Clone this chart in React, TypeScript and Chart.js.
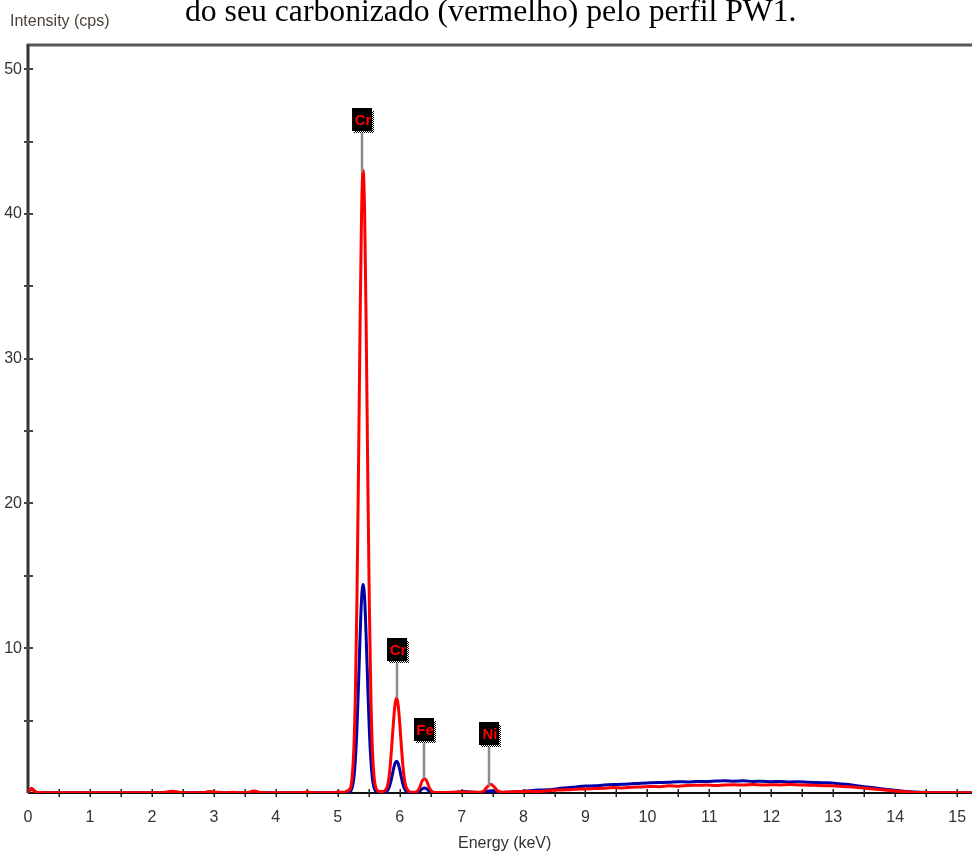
import React, { useEffect, useRef } from "react";
import { Chart, registerables } from "chart.js";

Chart.register(...registerables);

// ---- spectrum data (energy in keV, intensity in cps) ----
const energies = [
  0.0, 0.03, 0.06, 0.09, 0.13, 0.2, 0.4, 0.7, 1.0, 1.3,
  1.6, 1.9, 2.15, 2.25, 2.33, 2.41, 2.5, 2.7, 2.85, 2.95,
  3.05, 3.2, 3.3, 3.4, 3.55, 3.65, 3.75, 3.9, 4.1, 4.3,
  4.45, 4.52, 4.6, 4.8, 4.95, 5.03, 5.1, 5.16,
  5.21, 5.235, 5.26, 5.285, 5.31, 5.335, 5.36, 5.385, 5.41, 5.435,
  5.46, 5.485, 5.51, 5.535, 5.56, 5.585, 5.61, 5.66, 5.72, 5.77,
  5.8, 5.825, 5.85, 5.875, 5.9, 5.925, 5.95, 5.975, 6.0, 6.025,
  6.05, 6.075, 6.1, 6.15, 6.2,
  6.27, 6.32, 6.36, 6.4, 6.44, 6.48, 6.53, 6.6, 6.75, 6.9,
  7.0, 7.1, 7.2, 7.3,
  7.36, 7.42, 7.47, 7.52, 7.58, 7.65, 7.75, 7.85, 7.95,
  8.1, 8.25, 8.4, 8.55, 8.7, 8.85, 9.0, 9.15, 9.3, 9.45,
  9.6, 9.75, 9.9, 10.05, 10.2, 10.35, 10.5, 10.65, 10.8, 10.95,
  11.1, 11.25, 11.4, 11.55, 11.7, 11.85, 12.0, 12.15, 12.3, 12.45,
  12.6, 12.75, 12.9, 13.05, 13.2, 13.35, 13.5, 13.65, 13.8, 13.95,
  14.1, 14.25, 14.4, 14.55, 14.7, 14.9, 15.1, 15.3,
];

// carbonizado (vermelho)
const redCounts = [
  0.05, 0.2, 0.32, 0.2, 0.05, 0.02, 0.02, 0.01, 0.02, 0.01,
  0.02, 0.02, 0.02, 0.07, 0.12, 0.07, 0.02, 0.02, 0.04, 0.1,
  0.05, 0.02, 0.06, 0.02, 0.03, 0.14, 0.04, 0.02, 0.02, 0.02,
  0.03, 0.07, 0.02, 0.02, 0.04, 0.07, 0.05, 0.15,
  0.4, 1.2, 3.0, 6.8, 13.2, 22.1, 32.0, 40.0, 43.0, 40.0,
  32.0, 22.1, 13.2, 6.8, 3.0, 1.2, 0.45, 0.12, 0.1, 0.2,
  0.45, 1.0, 2.0, 3.4, 4.9, 6.1, 6.6, 6.1, 4.9, 3.4,
  2.0, 1.0, 0.45, 0.12, 0.05,
  0.08, 0.35, 0.8, 1.0, 0.8, 0.35, 0.08, 0.03, 0.04, 0.06,
  0.08, 0.06, 0.05, 0.06,
  0.15, 0.45, 0.6, 0.45, 0.15, 0.06, 0.07, 0.08, 0.1,
  0.12, 0.1, 0.16, 0.2, 0.22, 0.26, 0.28, 0.31, 0.33, 0.38,
  0.35, 0.4, 0.42, 0.45, 0.44, 0.5, 0.47, 0.52, 0.53, 0.55,
  0.52, 0.56, 0.57, 0.55, 0.58, 0.55, 0.57, 0.56, 0.58, 0.55,
  0.54, 0.52, 0.5, 0.48, 0.44, 0.4, 0.34, 0.28, 0.22, 0.15,
  0.1, 0.06, 0.04, 0.03, 0.02, 0.02, 0.02, 0.02,
];

// amostra (azul)
const blueCounts = [
  0.05, 0.18, 0.28, 0.18, 0.05, 0.02, 0.01, 0.01, 0.01, 0.01,
  0.01, 0.02, 0.02, 0.05, 0.08, 0.05, 0.02, 0.02, 0.03, 0.07,
  0.04, 0.02, 0.04, 0.02, 0.02, 0.05, 0.02, 0.02, 0.02, 0.01,
  0.03, 0.05, 0.02, 0.02, 0.03, 0.04, 0.03, 0.06,
  0.13, 0.4, 1.0, 2.3, 4.4, 7.4, 10.7, 13.4, 14.4, 13.4,
  10.7, 7.4, 4.4, 2.3, 1.0, 0.4, 0.14, 0.04, 0.03, 0.05,
  0.15, 0.33, 0.67, 1.13, 1.64, 2.05, 2.2, 2.05, 1.64, 1.13,
  0.67, 0.33, 0.15, 0.04, 0.02,
  0.03, 0.12, 0.28, 0.35, 0.28, 0.12, 0.03, 0.02, 0.03, 0.06,
  0.1, 0.09, 0.06, 0.04,
  0.05, 0.12, 0.15, 0.12, 0.05, 0.04, 0.06, 0.09, 0.11,
  0.16, 0.2, 0.22, 0.3, 0.36, 0.42, 0.48, 0.5, 0.55, 0.58,
  0.6, 0.64, 0.68, 0.7, 0.72, 0.74, 0.78, 0.76, 0.8, 0.8,
  0.83, 0.85, 0.82, 0.84, 0.8, 0.82, 0.78, 0.8, 0.76, 0.78,
  0.74, 0.72, 0.7, 0.66, 0.6, 0.52, 0.44, 0.36, 0.28, 0.2,
  0.13, 0.08, 0.05, 0.03, 0.02, 0.02, 0.02, 0.02,
];

// peak labels
const peakLabels = ["Cr", "Cr", "Fe", "Ni"];
const peakEnergies = [5.4, 5.95, 6.39, 7.45];
const labelValues = [45.6, 8.98, 3.45, 3.18];
const peakTops = [42.9, 6.56, 1.0, 0.5];

const X_MAX = 15.24;
const Y_MAX = 51.67;

const SANS = '"Liberation Sans", Arial, sans-serif';

const framePlugin = {
  id: "frame",
  beforeDatasetsDraw(chart: any) {
    const { ctx, chartArea: a, scales } = chart;
    const x = scales.x;
    const y = scales.y;
    ctx.save();
    // top border
    ctx.strokeStyle = "#555";
    ctx.lineWidth = 3;
    ctx.beginPath();
    ctx.moveTo(a.left - 1.5, a.top);
    ctx.lineTo(a.right, a.top);
    ctx.stroke();
    // y axis
    ctx.strokeStyle = "#333";
    ctx.beginPath();
    ctx.moveTo(a.left, a.top);
    ctx.lineTo(a.left, a.bottom);
    ctx.stroke();
    // x axis
    ctx.strokeStyle = "#111";
    ctx.lineWidth = 2;
    ctx.beginPath();
    ctx.moveTo(a.left, a.bottom);
    ctx.lineTo(a.right, a.bottom);
    ctx.stroke();
    // x ticks every 0.5 keV
    ctx.strokeStyle = "#222";
    ctx.lineWidth = 1.5;
    for (let v = 0.5; v <= X_MAX; v += 0.5) {
      const px = Math.round(x.getPixelForValue(v)) + 0.25;
      ctx.beginPath();
      ctx.moveTo(px, a.bottom - 4);
      ctx.lineTo(px, a.bottom + 4);
      ctx.stroke();
    }
    // y ticks every 5 cps
    ctx.strokeStyle = "#444";
    ctx.lineWidth = 2;
    for (let v = 5; v <= Y_MAX; v += 5) {
      const py = Math.round(y.getPixelForValue(v));
      ctx.beginPath();
      ctx.moveTo(a.left - 4, py);
      ctx.lineTo(a.left + 5, py);
      ctx.stroke();
    }
    ctx.restore();
  },
  afterDatasetsDraw(chart: any) {
    const { ctx, scales } = chart;
    const x = scales.x;
    const y = scales.y;
    ctx.save();
    peakLabels.forEach((lab, i) => {
      const px = Math.round(x.getPixelForValue(peakEnergies[i]));
      const bottom = Math.round(y.getPixelForValue(labelValues[i]));
      const tip = y.getPixelForValue(peakTops[i]);
      // stem
      ctx.strokeStyle = "#8c8c8c";
      ctx.lineWidth = 2.5;
      ctx.beginPath();
      ctx.moveTo(px, bottom);
      ctx.lineTo(px, tip);
      ctx.stroke();
      // box
      const w = 20;
      const h = 23;
      const left = px - 10;
      const top = bottom - h - 2;
      ctx.fillStyle = "#000";
      ctx.fillRect(left, top, w, h);
      ctx.fillStyle = "#ff0000";
      ctx.font = `bold 15px ${SANS}`;
      ctx.textAlign = "center";
      ctx.textBaseline = "middle";
      ctx.fillText(lab, left + w / 2 + 1, top + h / 2 + 1);
      // stippled shadow (right + bottom)
      ctx.fillStyle = "#000";
      for (let yy = top + 3; yy < top + h + 2; yy++) {
        for (let xx = left + w; xx < left + w + 2; xx++) {
          if ((xx + yy) % 2 === 0) ctx.fillRect(xx, yy, 1, 1);
        }
      }
      for (let yy = top + h; yy < top + h + 2; yy++) {
        for (let xx = left + 2; xx < left + w; xx++) {
          if ((xx + yy) % 2 === 0) ctx.fillRect(xx, yy, 1, 1);
        }
      }
    });
    ctx.restore();
  },
};

export default function App() {
  const canvasRef = useRef<HTMLCanvasElement | null>(null);

  useEffect(() => {
    if (!canvasRef.current) return;
    const toPoints = (vals: number[]) => energies.map((e, i) => ({ x: e, y: vals[i] }));
    const chart = new Chart(canvasRef.current, {
      type: "line",
      data: {
        datasets: [
          {
            label: "carbonizado",
            data: toPoints(redCounts),
            borderColor: "#ff0000",
            borderWidth: 3,
            pointRadius: 0,
            cubicInterpolationMode: "monotone",
            fill: false,
          },
          {
            label: "amostra",
            data: toPoints(blueCounts),
            borderColor: "#0000a8",
            borderWidth: 3,
            pointRadius: 0,
            cubicInterpolationMode: "monotone",
            fill: false,
          },
        ],
      },
      options: {
        responsive: false,
        animation: false,
        events: [],
        layout: { padding: { top: 45, left: 0, right: 0, bottom: 0 } },
        plugins: {
          legend: { display: false },
          tooltip: { enabled: false },
          title: { display: false },
        },
        scales: {
          x: {
            type: "linear",
            min: 0,
            max: X_MAX,
            border: { display: false },
            grid: { display: false, drawTicks: false },
            ticks: {
              stepSize: 1,
              includeBounds: false,
              autoSkip: false,
              maxRotation: 0,
              padding: 15,
              color: "#333",
              font: { family: SANS, size: 16 },
              callback: (v: any) => String(v),
            },
            afterFit: (s: any) => {
              s.height = 60;
              s.paddingLeft = 0;
              s.paddingRight = 0;
            },
          },
          y: {
            type: "linear",
            min: 0,
            max: Y_MAX,
            border: { display: false },
            grid: { display: false, drawTicks: false },
            ticks: {
              stepSize: 10,
              includeBounds: false,
              padding: 6,
              color: "#333",
              font: { family: SANS, size: 16 },
              callback: (v: any) => (v === 0 ? "" : String(v)),
            },
            afterFit: (s: any) => {
              s.width = 28;
              s.paddingTop = 0;
              s.paddingBottom = 0;
            },
          },
        },
      },
      plugins: [framePlugin],
    } as any);
    return () => chart.destroy();
  }, []);

  return (
    <div
      style={{
        position: "absolute",
        left: 0,
        top: 0,
        width: 972,
        height: 853,
        overflow: "hidden",
        background: "#fff",
      }}
    >
      <canvas ref={canvasRef} width={972} height={853} style={{ position: "absolute", left: 0, top: 0 }} />
      <div
        style={{
          position: "absolute",
          left: 185,
          top: -5.5,
          fontFamily: '"Liberation Serif", "Times New Roman", serif',
          fontSize: 31.7,
          lineHeight: "31.7px",
          color: "#000",
          whiteSpace: "nowrap",
        }}
      >
        do seu carbonizado (vermelho) pelo perfil PW1.
      </div>
      <div
        style={{
          position: "absolute",
          left: 10,
          top: 13,
          fontFamily: SANS,
          fontSize: 16,
          lineHeight: "16px",
          color: "#4a4236",
          whiteSpace: "nowrap",
        }}
      >
        Intensity (cps)
      </div>
      <div
        style={{
          position: "absolute",
          left: 458,
          top: 835,
          fontFamily: SANS,
          fontSize: 16,
          lineHeight: "16px",
          color: "#333",
          whiteSpace: "nowrap",
        }}
      >
        Energy (keV)
      </div>
    </div>
  );
}
